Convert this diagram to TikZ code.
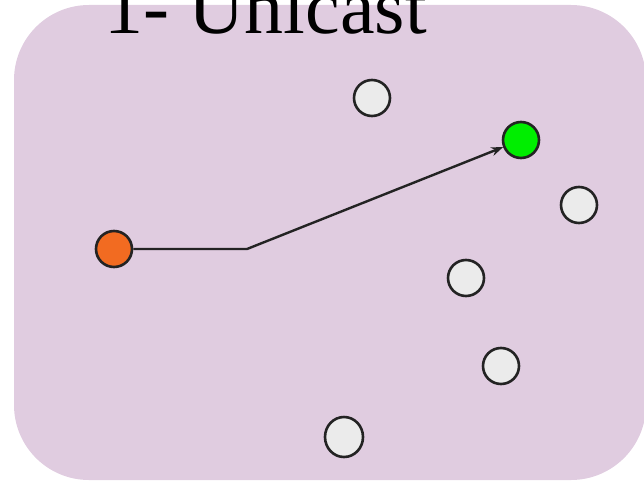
\documentclass[tikz,border=0pt]{standalone}
\usepackage{fontspec}
\setmainfont{Liberation Serif}
\usetikzlibrary{arrows.meta,shapes.geometric}
\definecolor{panel}{RGB}{224,204,224}
\definecolor{peer}{RGB}{235,235,235}
\definecolor{src}{RGB}{242,107,33}
\definecolor{dst}{RGB}{0,238,0}
\definecolor{edge}{RGB}{35,35,35}
\tikzset{
  host/.style={circle, draw=edge, line width=2.6pt, minimum size=36pt, inner sep=0pt, fill=peer},
  link/.style={draw=edge, line width=2.4pt, -{Stealth[length=12pt,width=9pt]}}
}
\begin{document}
\begin{tikzpicture}[x=1pt,y=-1pt]
  \clip (0,0) rectangle (644,484);
  \useasboundingbox (0,0) rectangle (644,484);
  % panel
  \fill[panel, rounded corners=75pt] (14,5) rectangle (646,480);
  % title
  \node[anchor=base west, inner sep=0pt, font=\fontsize{78}{80}\selectfont] (title) at (104,34) {1- Unicast};
  % hosts
  \node[host, fill=src] (s) at (114,249) {};
  \node[host, fill=dst] (d) at (521,140) {};
  \node[host] (h1) at (372,98) {};
  \node[host] (h2) at (579,205) {};
  \node[host] (h3) at (466,278) {};
  \node[host] (h4) at (501,366) {};
  \node[host, ellipse, minimum width=38pt, minimum height=40pt] (h5) at (344,437) {};
  % unicast path
  \coordinate (bend) at (247,249);
  \draw[link] (s) -- (bend) -- (d);
\end{tikzpicture}
\end{document}
